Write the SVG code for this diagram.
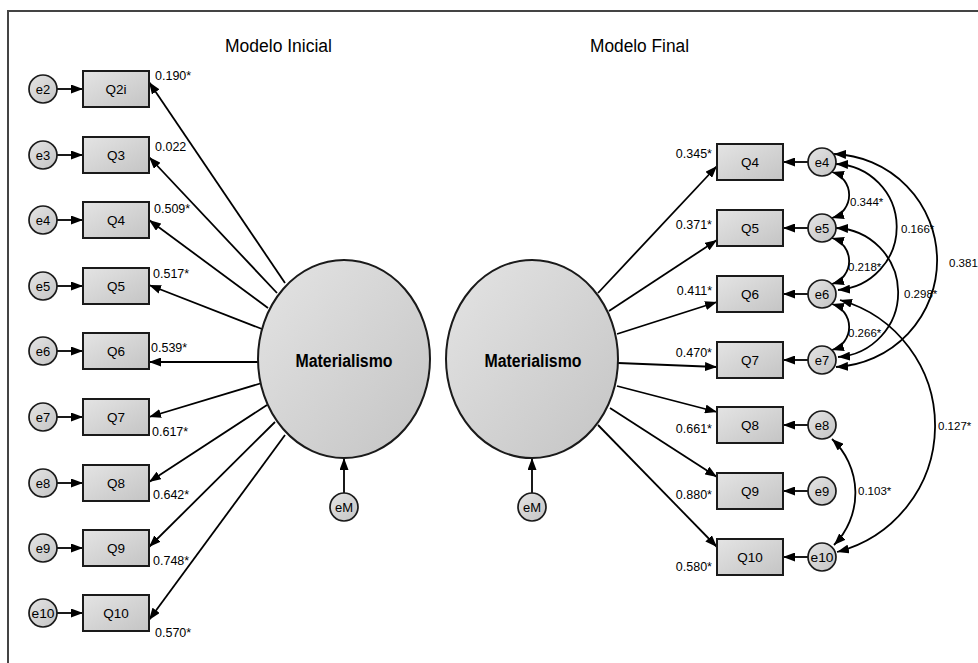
<svg xmlns="http://www.w3.org/2000/svg" width="978" height="663" viewBox="0 0 978 663">
<style>
text{font-family:"Liberation Sans",Arial,sans-serif;fill:#000}
.box{fill:url(#g);stroke:#1a1a1a;stroke-width:2}
.err{fill:url(#g);stroke:#1a1a1a;stroke-width:1.7}
.lat{fill:url(#g2);stroke:#1a1a1a;stroke-width:2}
.bt{font-size:13.5px;text-anchor:middle}
.et{font-size:13px;text-anchor:middle}
.ld{font-size:12.5px}
.cv{font-size:11.5px}
.ttl{font-size:18px}
.lt{font-size:18px;font-weight:bold;text-anchor:middle}
.c{fill:none;stroke:#000;stroke-width:1.8;marker-end:url(#ah)}
.cc{fill:none;stroke:#000;stroke-width:1.8;marker-start:url(#ah);marker-end:url(#ah)}
</style>
<defs>
<linearGradient id="g" x1="0" y1="0" x2="1" y2="1"><stop offset="0" stop-color="#e4e4e4"/><stop offset="1" stop-color="#c4c4c4"/></linearGradient>
<linearGradient id="g2" x1="0" y1="0" x2="1" y2="1"><stop offset="0" stop-color="#e4e4e4"/><stop offset="1" stop-color="#c4c4c4"/></linearGradient>
<marker id="ah" viewBox="0 0 12 9" refX="12" refY="4.5" markerWidth="12" markerHeight="9" markerUnits="userSpaceOnUse" orient="auto-start-reverse"><path d="M0,0 L12,4.5 L0,9 z" fill="#000"/></marker>
</defs>
<rect width="978" height="663" fill="#fff"/>
<path d="M8,663 V11 H978" fill="none" stroke="#444" stroke-width="2"/>
<text class="ttl" x="225" y="52" textLength="107" lengthAdjust="spacingAndGlyphs">Modelo Inicial</text>
<text class="ttl" x="590" y="52" textLength="99" lengthAdjust="spacingAndGlyphs">Modelo Final</text>

<g id="connectors">
<line class="c" x1="57" y1="89" x2="83" y2="89"/>
<line class="c" x1="57" y1="155" x2="83" y2="155"/>
<line class="c" x1="57" y1="220" x2="83" y2="220"/>
<line class="c" x1="57" y1="286" x2="83" y2="286"/>
<line class="c" x1="57" y1="351" x2="83" y2="351"/>
<line class="c" x1="57" y1="417" x2="83" y2="417"/>
<line class="c" x1="57" y1="483" x2="83" y2="483"/>
<line class="c" x1="57" y1="548" x2="83" y2="548"/>
<line class="c" x1="57" y1="613" x2="83" y2="613"/>
<line class="c" x1="285" y1="283" x2="149" y2="82"/>
<line class="c" x1="277" y1="293" x2="149" y2="157"/>
<line class="c" x1="268" y1="308" x2="149" y2="220"/>
<line class="c" x1="262" y1="329" x2="149" y2="285"/>
<line class="c" x1="258" y1="362" x2="149" y2="362"/>
<line class="c" x1="262" y1="383" x2="149" y2="417"/>
<line class="c" x1="267" y1="405" x2="149" y2="482"/>
<line class="c" x1="275" y1="422" x2="149" y2="547"/>
<line class="c" x1="285" y1="435" x2="149" y2="620"/>
<line class="c" x1="344" y1="493" x2="344" y2="458"/>
<line class="c" x1="598" y1="293" x2="717" y2="166"/>
<line class="c" x1="609" y1="311" x2="717" y2="240"/>
<line class="c" x1="617" y1="334" x2="717" y2="302"/>
<line class="c" x1="618" y1="363" x2="717" y2="367"/>
<line class="c" x1="617" y1="386" x2="717" y2="412"/>
<line class="c" x1="610" y1="408" x2="717" y2="477"/>
<line class="c" x1="598" y1="425" x2="717" y2="547"/>
<line class="c" x1="532" y1="493" x2="532" y2="458"/>
<line class="c" x1="808" y1="162" x2="783" y2="162"/>
<line class="c" x1="808" y1="228" x2="783" y2="228"/>
<line class="c" x1="808" y1="294" x2="783" y2="294"/>
<line class="c" x1="808" y1="360" x2="783" y2="360"/>
<line class="c" x1="808" y1="425" x2="783" y2="425"/>
<line class="c" x1="808" y1="491" x2="783" y2="491"/>
<line class="c" x1="808" y1="557" x2="783" y2="557"/>
<path class="cc" d="M832,172 A24,24 0 0 1 832,218"/>
<path class="cc" d="M832,238 A24,24 0 0 1 832,284"/>
<path class="cc" d="M832,304 A24,24 0 0 1 832,350"/>
<path class="cc" d="M836,164 A63.1,63.1 0 0 1 838,290"/>
<path class="cc" d="M836,228 A64.6,64.6 0 0 1 838,357"/>
<path class="cc" d="M834,154 A106.6,106.6 0 0 1 836,367"/>
<path class="cc" d="M840,300 A130.5,130.5 0 0 1 837,552"/>
<path class="cc" d="M832,439 A74,74 0 0 1 834,545"/>
</g>

<g id="labels-left">
<text class="ld" x="155" y="80">0.190*</text>
<text class="ld" x="155" y="151">0.022</text>
<text class="ld" x="154" y="213">0.509*</text>
<text class="ld" x="153" y="278">0.517*</text>
<text class="ld" x="151" y="352">0.539*</text>
<text class="ld" x="152" y="436">0.617*</text>
<text class="ld" x="153" y="499">0.642*</text>
<text class="ld" x="153" y="565">0.748*</text>
<text class="ld" x="155" y="637">0.570*</text>
</g>
<g id="labels-right">
<text class="ld" x="712" y="158" text-anchor="end">0.345*</text>
<text class="ld" x="712" y="229" text-anchor="end">0.371*</text>
<text class="ld" x="712" y="295" text-anchor="end">0.411*</text>
<text class="ld" x="712" y="357" text-anchor="end">0.470*</text>
<text class="ld" x="712" y="433" text-anchor="end">0.661*</text>
<text class="ld" x="712" y="499" text-anchor="end">0.880*</text>
<text class="ld" x="712" y="571" text-anchor="end">0.580*</text>
</g>
<g id="labels-cov">
<text class="cv" x="850" y="206">0.344*</text>
<text class="cv" x="848" y="271">0.218*</text>
<text class="cv" x="848" y="337">0.266*</text>
<text class="cv" x="901" y="233">0.166*</text>
<text class="cv" x="904" y="298">0.298*</text>
<text class="cv" x="949" y="267">0.381</text>
<text class="cv" x="938" y="430">0.127*</text>
<text class="cv" x="858" y="495">0.103*</text>
</g>

<g id="L-Q2i"><rect class="box" x="83" y="71" width="66" height="36"/><text class="bt" x="116" y="94">Q2i</text></g>
<g id="L-Q3"><rect class="box" x="83" y="137" width="66" height="36"/><text class="bt" x="116" y="160">Q3</text></g>
<g id="L-Q4"><rect class="box" x="83" y="202" width="66" height="36"/><text class="bt" x="116" y="225">Q4</text></g>
<g id="L-Q5"><rect class="box" x="83" y="268" width="66" height="36"/><text class="bt" x="116" y="291">Q5</text></g>
<g id="L-Q6"><rect class="box" x="83" y="333" width="66" height="36"/><text class="bt" x="116" y="356">Q6</text></g>
<g id="L-Q7"><rect class="box" x="83" y="399" width="66" height="36"/><text class="bt" x="116" y="422">Q7</text></g>
<g id="L-Q8"><rect class="box" x="83" y="465" width="66" height="36"/><text class="bt" x="116" y="488">Q8</text></g>
<g id="L-Q9"><rect class="box" x="83" y="530" width="66" height="36"/><text class="bt" x="116" y="553">Q9</text></g>
<g id="L-Q10"><rect class="box" x="83" y="595" width="66" height="36"/><text class="bt" x="116" y="618">Q10</text></g>

<g id="L-e2"><circle class="err" cx="43" cy="89" r="14"/><text class="et" x="43" y="93.5">e2</text></g>
<g id="L-e3"><circle class="err" cx="43" cy="155" r="14"/><text class="et" x="43" y="159.5">e3</text></g>
<g id="L-e4"><circle class="err" cx="43" cy="220" r="14"/><text class="et" x="43" y="224.5">e4</text></g>
<g id="L-e5"><circle class="err" cx="43" cy="286" r="14"/><text class="et" x="43" y="290.5">e5</text></g>
<g id="L-e6"><circle class="err" cx="43" cy="351" r="14"/><text class="et" x="43" y="355.5">e6</text></g>
<g id="L-e7"><circle class="err" cx="43" cy="417" r="14"/><text class="et" x="43" y="421.5">e7</text></g>
<g id="L-e8"><circle class="err" cx="43" cy="483" r="14"/><text class="et" x="43" y="487.5">e8</text></g>
<g id="L-e9"><circle class="err" cx="43" cy="548" r="14"/><text class="et" x="43" y="552.5">e9</text></g>
<g id="L-e10"><circle class="err" cx="43" cy="613" r="14"/><text class="et" x="43" y="617.5" textLength="23" lengthAdjust="spacingAndGlyphs">e10</text></g>

<g id="L-Materialismo"><ellipse class="lat" cx="344" cy="359" rx="86" ry="99"/><text class="lt" x="344" y="367" textLength="97" lengthAdjust="spacingAndGlyphs">Materialismo</text></g>
<g id="L-eM"><circle class="err" cx="344" cy="507" r="14"/><text class="et" x="344" y="511.5">eM</text></g>

<g id="R-Materialismo"><ellipse class="lat" cx="532" cy="359" rx="86" ry="99"/><text class="lt" x="533" y="367" textLength="97" lengthAdjust="spacingAndGlyphs">Materialismo</text></g>
<g id="R-eM"><circle class="err" cx="532" cy="507" r="14"/><text class="et" x="532" y="511.5">eM</text></g>

<g id="R-Q4"><rect class="box" x="717" y="144" width="66" height="36"/><text class="bt" x="750" y="167">Q4</text></g>
<g id="R-Q5"><rect class="box" x="717" y="210" width="66" height="36"/><text class="bt" x="750" y="233">Q5</text></g>
<g id="R-Q6"><rect class="box" x="717" y="276" width="66" height="36"/><text class="bt" x="750" y="299">Q6</text></g>
<g id="R-Q7"><rect class="box" x="717" y="342" width="66" height="36"/><text class="bt" x="750" y="365">Q7</text></g>
<g id="R-Q8"><rect class="box" x="717" y="407" width="66" height="36"/><text class="bt" x="750" y="430">Q8</text></g>
<g id="R-Q9"><rect class="box" x="717" y="473" width="66" height="36"/><text class="bt" x="750" y="496">Q9</text></g>
<g id="R-Q10"><rect class="box" x="717" y="539" width="66" height="36"/><text class="bt" x="750" y="562">Q10</text></g>

<g id="R-e4"><circle class="err" cx="822" cy="162" r="14"/><text class="et" x="822" y="166.5">e4</text></g>
<g id="R-e5"><circle class="err" cx="822" cy="228" r="14"/><text class="et" x="822" y="232.5">e5</text></g>
<g id="R-e6"><circle class="err" cx="822" cy="294" r="14"/><text class="et" x="822" y="298.5">e6</text></g>
<g id="R-e7"><circle class="err" cx="822" cy="360" r="14"/><text class="et" x="822" y="364.5">e7</text></g>
<g id="R-e8"><circle class="err" cx="822" cy="425" r="14"/><text class="et" x="822" y="429.5">e8</text></g>
<g id="R-e9"><circle class="err" cx="822" cy="491" r="14"/><text class="et" x="822" y="495.5">e9</text></g>
<g id="R-e10"><circle class="err" cx="822" cy="557" r="14"/><text class="et" x="822" y="561.5" textLength="23" lengthAdjust="spacingAndGlyphs">e10</text></g>
</svg>
